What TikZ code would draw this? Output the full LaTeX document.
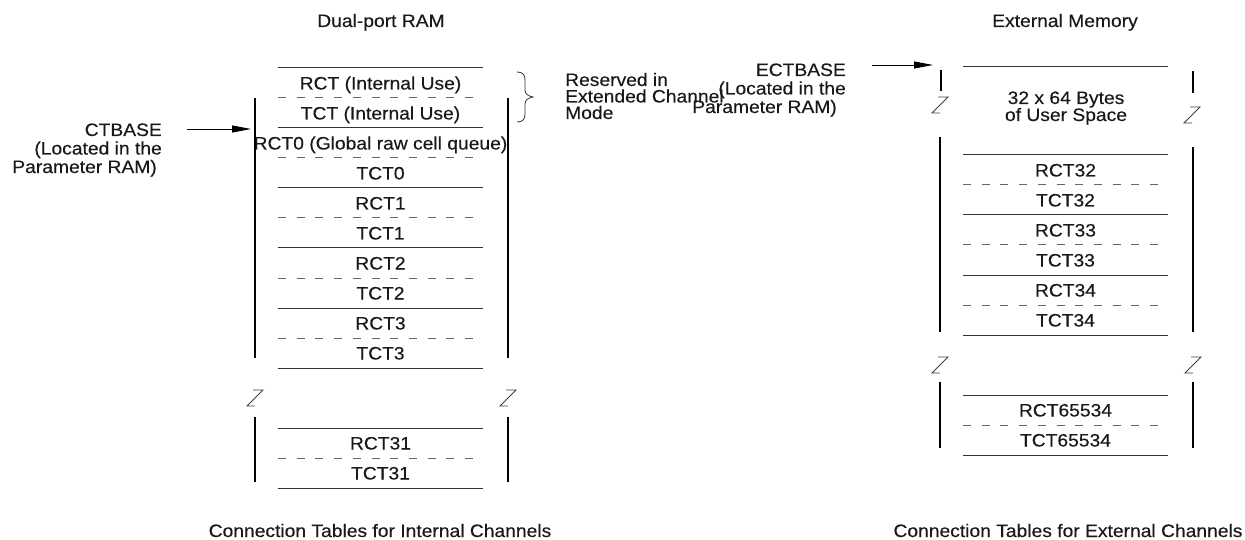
\documentclass[tikz,border=0pt]{standalone}
\usepackage{fontspec}
\setmainfont{Liberation Sans}[FakeStretch=1.07,FakeBold=0.3]
\usetikzlibrary{arrows.meta}
\begin{document}
\begin{tikzpicture}[x=1pt,y=-1pt,
  txt/.style={font=\fontsize{18}{18.5}\selectfont, inner sep=0pt, text=black!90},
  cell/.style={txt, anchor=base},
  solidline/.style={draw=black!80, line width=1pt},
  dashline/.style={draw=black!60, line width=1pt, dash pattern=on 8pt off 10.7pt},
  wall/.style={draw=black, line width=1.8pt},
  zline/.style={draw=black!75, line width=0.9pt},
  ptr/.style={draw=black, line width=0.9pt, -{Triangle[length=19pt,width=7pt]}},
  zbreak/.pic={\draw[zline] (-2,-8) -- (8,-8) -- (-8,8) -- (0,8);}
]
\useasboundingbox (0,0) rectangle (1245,540);

% ---------- titles and captions ----------
\node[cell] (t1) at (381,27) {Dual-port RAM};
\node[cell] (t2) at (1065,27) {External Memory};
\node[cell] (c1) at (380,537) {Connection Tables for Internal Channels};
\node[cell] (c2) at (1068,537) {Connection Tables for External Channels};

% ---------- left block ----------
\foreach \yy in {68,128,188,248,308,368,428,488}
  \draw[solidline] (278,\yy) -- (483,\yy);
\foreach \yy in {98,158,218,278,338,458}
  \draw[dashline] (278,\yy) -- (483,\yy);
\foreach \yy/\lbl [count=\i] in {83/RCT (Internal Use),113/TCT (Internal Use),143/RCT0 (Global raw cell queue),173/TCT0,203/RCT1,233/TCT1,263/RCT2,293/TCT2,323/RCT3,353/TCT3,443/RCT31,473/TCT31}
  \node[cell] (lc\i) at (380.5,\yy+6.5) {\lbl};
\draw[wall] (255,98) -- (255,358);
\draw[wall] (508,98) -- (508,358);
\draw[wall] (255,417) -- (255,482);
\draw[wall] (508,417) -- (508,482);
\pic at (255,398) {zbreak};
\pic at (508,398) {zbreak};

% brace
\draw[draw=black!80, line width=0.8pt] (517,72) .. controls (523,72) and (525,75) .. (525,80) -- (525,90)
  .. controls (525,94) and (528,96) .. (533,97) .. controls (528,98) and (525,100) .. (525,104)
  -- (525,114) .. controls (525,119) and (523,122) .. (517,122);
\node[txt, font=\fontsize{18}{16.5}\selectfont, align=left, anchor=base west] (reserved) at (565,119) {Reserved in\\Extended Channel\\Mode};

% CTBASE
\node[txt, align=right, anchor=base east] (ctbase) at (162,173) {CTBASE\\(Located in the\hspace*{6pt}\\Parameter RAM)\hspace*{5pt}};
\coordinate (ctfrom) at (187,129);
\coordinate (ctto) at (251,129);
\draw[ptr] (ctfrom) -- (ctto);

% ---------- right block ----------
\foreach \yy in {67,155,215,275,335,395,455}
  \draw[solidline] (963,\yy) -- (1168,\yy);
\foreach \yy in {185,245,305,425}
  \draw[dashline] (963,\yy) -- (1168,\yy);
\foreach \yy/\lbl [count=\i] in {170/RCT32,200/TCT32,230/RCT33,260/TCT33,290/RCT34,320/TCT34,410/RCT65534,440/TCT65534}
  \node[cell] (rc\i) at (1065.5,\yy+6.5) {\lbl};
\node[txt, font=\fontsize{18}{17}\selectfont, align=center, anchor=base] (userspace) at (1066,121) {32 x 64 Bytes\\of User Space};
\draw[wall] (941,70) -- (941,91);
\draw[wall] (1193,71) -- (1193,93);
\pic at (940,105) {zbreak};
\pic at (1192,115) {zbreak};
\draw[wall] (940,137) -- (940,332);
\draw[wall] (1193,147) -- (1193,332);
\pic at (940,365) {zbreak};
\pic at (1193,365) {zbreak};
\draw[wall] (940,382) -- (940,448);
\draw[wall] (1193,382) -- (1193,448);

% ECTBASE
\node[txt, align=right, anchor=base east] (ectbase) at (846,113) {ECTBASE\\(Located in the\hspace*{11pt}\\Parameter RAM)\hspace*{9pt}};
\coordinate (ectfrom) at (872,65);
\coordinate (ectto) at (933,65);
\draw[ptr] (ectfrom) -- (ectto);
\end{tikzpicture}
\end{document}
